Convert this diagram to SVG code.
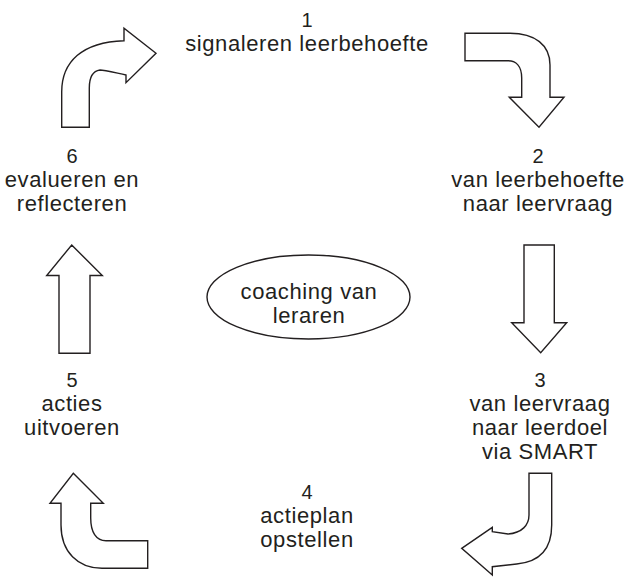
<svg xmlns="http://www.w3.org/2000/svg" width="629" height="577" viewBox="0 0 629 577">
<style>
.arrow{fill:#fff;stroke:#231f20;stroke-width:1.4;stroke-linejoin:miter}
.t{font-family:"Liberation Sans",Arial,sans-serif;font-size:22px;letter-spacing:0.6px;fill:#231f20;text-anchor:middle}
.n{font-family:"Liberation Sans",Arial,sans-serif;font-size:20px;fill:#231f20;text-anchor:middle}
</style>
<rect width="629" height="577" fill="#fff"/>
<g id="connectors">
<path id="arrow1" class="arrow" d="M61.7,127.3 V92 C61.7,62 82,42 124,40.7 V28.3 L156,53.3 L126,82.7 V75 C112,72 104,70 100,70 C93,71 89.3,78 89.3,88 V127.3 Z"/>
<path id="arrow2" class="arrow" d="M465,33.3 H510 C535,33.3 550,45 550,65 V97.3 H564 L539,127.3 L509.3,97.3 H521.7 V78 C521.7,66 516,60.7 508,60.7 H465 Z"/>
<path id="arrow3" class="arrow" d="M524,245 H554.3 V322.7 H566.7 L540.7,352.7 L511.7,322.7 H524 Z"/>
<path id="arrow4" class="arrow" d="M529,473.3 H551.7 V525 C551.7,550 538,562 516.7,564 L492.3,566.7 V575 L461.7,548.3 L492.3,527.3 V531.7 L508,534 C522,533 529,525 529,515 Z"/>
<path id="arrow5" class="arrow" d="M73.3,473.3 L103.3,503.3 H90.7 V518 C90.7,532 96,540.7 106,540.7 H147.7 V568.3 H102 C78,568.3 61,552 61,525 V503.3 H50 Z"/>
<path id="arrow6" class="arrow" d="M71.7,245 L102.3,275.5 H90 V353.3 H59 V275.5 H46.7 Z"/>
</g>
<g id="node1">
<text class="n" x="307" y="27">1</text>
<text class="t" x="307" y="51">signaleren leerbehoefte</text>
</g>
<g id="node2">
<text class="n" x="538" y="163">2</text>
<text class="t" x="538" y="187">van leerbehoefte</text>
<text class="t" x="538" y="211">naar leervraag</text>
</g>
<g id="node3">
<text class="n" x="540" y="387">3</text>
<text class="t" x="540" y="411">van leervraag</text>
<text class="t" x="540" y="435">naar leerdoel</text>
<text class="t" x="540" y="459">via SMART</text>
</g>
<g id="node4">
<text class="n" x="307" y="499">4</text>
<text class="t" x="307" y="523">actieplan</text>
<text class="t" x="307" y="547">opstellen</text>
</g>
<g id="node5">
<text class="n" x="72" y="387">5</text>
<text class="t" x="72" y="411">acties</text>
<text class="t" x="72" y="435">uitvoeren</text>
</g>
<g id="node6">
<text class="n" x="72" y="163">6</text>
<text class="t" x="72" y="187">evalueren en</text>
<text class="t" x="72" y="211">reflecteren</text>
</g>
<g id="center">
<ellipse class="arrow" cx="308.5" cy="297" rx="101.5" ry="42"/>
<text class="t" x="309" y="299">coaching van</text>
<text class="t" x="309" y="323">leraren</text>
</g>
</svg>
